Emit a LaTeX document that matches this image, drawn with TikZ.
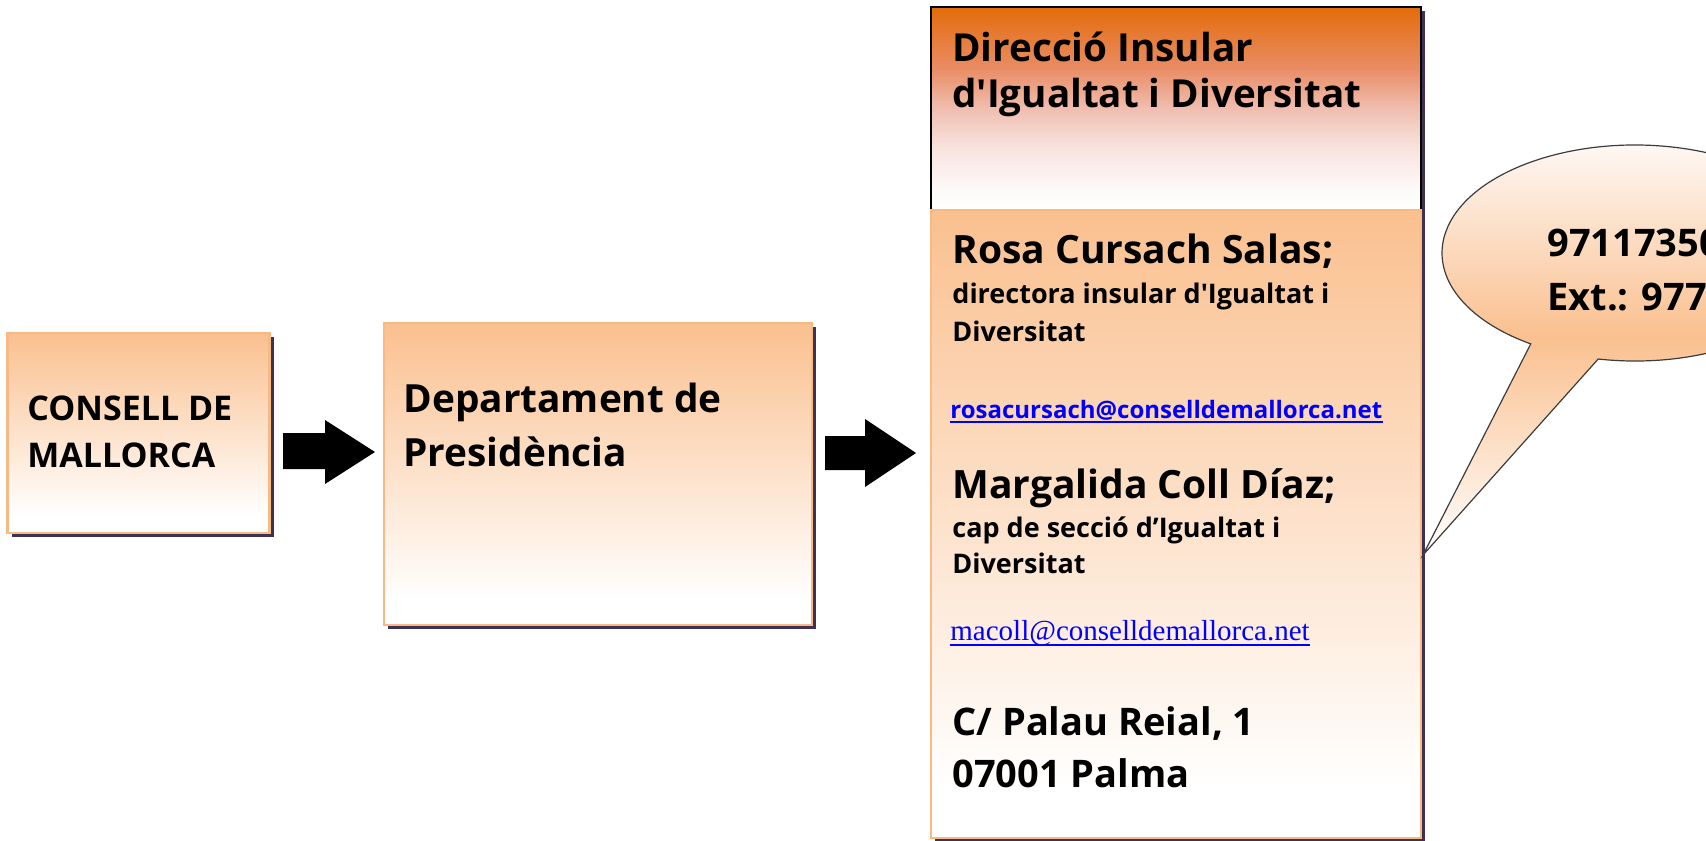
\documentclass[tikz,border=0pt]{standalone}
\usepackage{fontspec}
\setmainfont{Open Sans}[Ligatures=TeXOff]
\newfontfamily\timesf{Liberation Serif}
\usetikzlibrary{shadows,calc}
\definecolor{orangeL}{RGB}{250,192,143}
\definecolor{orangeB}{RGB}{248,186,132}
\definecolor{orangeD}{RGB}{227,108,10}
\definecolor{headA}{RGB}{253,250,249}
\definecolor{headB}{RGB}{248,225,220}
\definecolor{headC}{RGB}{240,190,175}
\definecolor{headE}{RGB}{233,140,100}
\definecolor{offw}{RGB}{254,250,248}
\definecolor{shadowc}{RGB}{64,49,82}
\definecolor{linkblue}{RGB}{0,0,255}
\definecolor{callline}{RGB}{60,60,60}
\pgfdeclareverticalshading{boxshade}{100bp}{color(0bp)=(white); color(25bp)=(white); color(29bp)=(white); color(75bp)=(orangeL); color(100bp)=(orangeL)}
\pgfdeclareverticalshading{headshade}{100bp}{color(0bp)=(white); color(25bp)=(white); color(30bp)=(headA); color(41bp)=(headB); color(50bp)=(headC); color(60bp)=(headE); color(75bp)=(orangeD); color(100bp)=(orangeD)}
\pgfdeclareverticalshading{callshade}{100bp}{color(0bp)=(white); color(25bp)=(white); color(51bp)=(orangeL); color(75bp)=(offw); color(100bp)=(offw)}
\tikzset{
  orgbox/.style={draw=orangeB, line width=1.2pt, shade, shading=boxshade, inner sep=0pt,
    drop shadow={shadow xshift=2pt, shadow yshift=-2pt, fill=shadowc, opacity=1}},
  headbox/.style={draw=black, line width=1pt, shade, shading=headshade, inner sep=0pt,
    drop shadow={shadow xshift=2pt, shadow yshift=-2pt, fill=shadowc, opacity=1}},
  txtbase/.style={anchor=base west, inner sep=0pt, font=\bfseries},
  tbig/.style={txtbase, font=\bfseries\fontsize{17}{21}\selectfont},
  tdept/.style={txtbase, font=\bfseries\fontsize{19.4}{23}\selectfont},
  thead/.style={txtbase, font=\bfseries\fontsize{19.3}{24}\selectfont},
  tperson/.style={txtbase, font=\bfseries\fontsize{19.5}{23}\selectfont},
  tsmall/.style={txtbase, font=\bfseries\fontsize{13.5}{16}\selectfont},
  tmailos/.style={txtbase, text=linkblue, font=\bfseries\fontsize{12}{14}\selectfont},
  tmailtm/.style={txtbase, text=linkblue, font=\timesf\fontsize{14.5}{17}\selectfont},
  taddr/.style={txtbase, font=\bfseries\fontsize{19}{23}\selectfont},
  blockarrow/.style={fill=black}
}
\begin{document}
\begin{tikzpicture}[x=0.5pt,y=-0.5pt]
\useasboundingbox (0,0) rectangle (1706,840);
\clip (0,0) rectangle (1706,840);

% boxes
\node[orgbox, minimum width=131pt, minimum height=100pt] (b1) at (138.5,433) {};
\node[orgbox, minimum width=214pt, minimum height=151pt] (b2) at (598,474) {};
\node[headbox, minimum width=245pt, minimum height=101.5pt] (b3) at (1176,108.5) {};
\node[orgbox, minimum width=245pt, minimum height=314pt] (b4) at (1176,524) {};

% block arrows
\fill[blockarrow] (283,433) -- (325,433) -- (325,420) -- (375,452) -- (325,484) -- (325,469) -- (283,469) -- cycle;
\fill[blockarrow] (825,436) -- (865,436) -- (865,419) -- (916,453) -- (865,487) -- (865,470) -- (825,470) -- cycle;

% callout
\coordinate (cc) at (1635,253);
\coordinate (tip) at (1423,555);
\draw[callline, line width=0.6pt, shade, shading=callshade]
  ($(cc)+(237.3:96.5pt and 54pt)$) -- (tip) -- ($(cc)+(259:96.5pt and 54pt)$)
  arc[start angle=259, end angle=597.3, x radius=96.5pt, y radius=54pt] -- cycle;

% texts
\node[tbig] (t1) at (27,420) {CONSELL DE};
\node[tbig] (t2) at (27,467) {MALLORCA};
\node[tdept] (t3) at (403,412) {Departament de};
\node[tdept] (t4) at (403,466) {Presidència};
\node[thead] (t5) at (952,62) {Direcció Insular};
\node[thead] (t6) at (952,107) {d'Igualtat i Diversitat};
\node[tperson] (t7) at (952,263) {Rosa Cursach Salas;};
\node[tsmall] (t8) at (952,303) {directora insular d'Igualtat i};
\node[tsmall] (t9) at (952,341) {Diversitat};
\node[tmailos] (e1) at (950,418) {rosacursach@conselldemallorca.net};
\draw[linkblue, line width=1pt] ($(e1.base west)+(0,4)$) -- ($(e1.base east)+(0,4)$);
\node[tperson] (t10) at (952,498) {Margalida Coll Díaz;};
\node[tsmall] (t11) at (952,537) {cap de secció d’Igualtat i};
\node[tsmall] (t12) at (952,573) {Diversitat};
\node[tmailtm] (e2) at (950,640) {macoll@conselldemallorca.net};
\draw[linkblue, line width=0.8pt] ($(e2.base west)+(0,5)$) -- ($(e2.base east)+(0,5)$);
\node[taddr] (t13) at (952,735) {C/ Palau Reial, 1};
\node[taddr] (t14) at (952,787) {07001 Palma};
\node[taddr] (t15) at (1547,256) {97117350};
\node[taddr] (t16) at (1547,310) {Ext.: 977};
\end{tikzpicture}
\end{document}
